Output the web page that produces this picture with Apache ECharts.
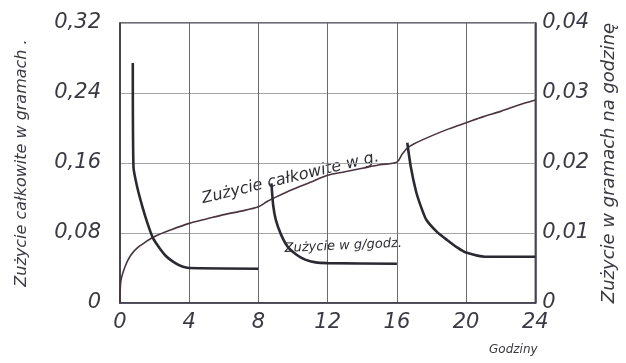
<!DOCTYPE html>
<html><head><meta charset="utf-8">
<script src="https://cdn.jsdelivr.net/npm/echarts@6/dist/echarts.min.js"></script>
<style>html,body{margin:0;padding:0;background:#fff}#c{width:626px;height:363px}</style>
</head><body><div id="c"></div>
<script>
// Cumulative consumption (g), left axis
const totalHours = [0, 0.05, 0.3, 0.6, 1, 1.5, 2, 3, 4, 5, 6, 7, 8, 8.5, 9, 10, 11, 12, 13, 14, 15, 16, 16.3, 16.6, 17, 18, 19, 20, 21, 22, 23, 24];
const totalValues = [0, 0.025, 0.042, 0.054, 0.063, 0.070, 0.076, 0.084, 0.091, 0.096, 0.101, 0.105, 0.110, 0.116, 0.121, 0.130, 0.138, 0.146, 0.150, 0.154, 0.158, 0.161, 0.170, 0.177, 0.182, 0.191, 0.199, 0.206, 0.213, 0.219, 0.226, 0.232];
// Hourly consumption (g/h), right axis – three feeding periods
const rate1Hours = [0.74, 0.78, 1.0, 1.3, 1.6, 1.9, 2.3, 2.7, 3.2, 3.6, 4, 8];
const rate1Values = [0.0343, 0.0194, 0.0165, 0.0137, 0.0113, 0.0093, 0.0078, 0.0066, 0.0057, 0.0052, 0.0050, 0.0049];
const rate2Hours = [8.75, 8.85, 9.0, 9.3, 9.7, 10.2, 10.7, 11.3, 12, 16];
const rate2Values = [0.0171, 0.0140, 0.0119, 0.0098, 0.0080, 0.0069, 0.0062, 0.0058, 0.0057, 0.0056];
const rate3Hours = [16.6, 16.8, 17.1, 17.4, 17.7, 18.3, 18.9, 19.5, 20, 21.1, 24];
const rate3Values = [0.0229, 0.0195, 0.0160, 0.0137, 0.0119, 0.0102, 0.0090, 0.0079, 0.0072, 0.0066, 0.0066];
const xTicks = [0, 4, 8, 12, 16, 20, 24];
const leftTicks = ['0', '0,08', '0,16', '0,24', '0,32'];
const rightTicks = ['0', '0,01', '0,02', '0,03', '0,04'];

const pair = (xs, ys) => xs.map((x, i) => [x, ys[i]]);
const FONT = '"DejaVu Sans", "Liberation Sans", sans-serif';
const lbl = {fontFamily: FONT, fontStyle: 'italic', fontSize: 21, color: '#3a3a44'};

const chart = echarts.init(document.getElementById('c'));
chart.setOption({
  animation: false,
  backgroundColor: '#fff',
  grid: {left: 120, right: 85, top: 23, bottom: 60, show: true, borderColor: '#3c3a48', borderWidth: 1.5},
  xAxis: {
    type: 'value', min: 0, max: 24, interval: 4,
    axisLine: {show: true, lineStyle: {color: '#3c3a48', width: 1.5}},
    axisTick: {show: false},
    axisLabel: Object.assign({}, lbl, {margin: 9, formatter: v => xTicks.includes(v) ? String(v) : ''}),
    splitLine: {show: true, lineStyle: {color: '#6a6875', width: 1}}
  },
  yAxis: [{
    type: 'value', min: 0, max: 0.32, interval: 0.08,
    axisLine: {show: true, lineStyle: {color: '#3c3a48', width: 1.5}},
    axisTick: {show: false},
    axisLabel: Object.assign({}, lbl, {margin: 19, formatter: (v) => leftTicks[Math.round(v / 0.08)]}),
    splitLine: {show: true, lineStyle: {color: '#a5a5a8', width: 1}},
    name: 'Zużycie całkowite w gramach .', nameLocation: 'middle', nameGap: 90, nameRotate: 90,
    nameTextStyle: {fontFamily: FONT, fontStyle: 'italic', fontSize: 16, color: '#3a3a44'}
  }, {
    type: 'value', min: 0, max: 0.04, interval: 0.01, position: 'right',
    axisLine: {show: true, lineStyle: {color: '#3c3a48', width: 1.5}},
    axisTick: {show: false},
    axisLabel: Object.assign({}, lbl, {margin: 7, formatter: (v) => rightTicks[Math.round(v / 0.01)]}),
    splitLine: {show: false},
    name: 'Zużycie w gramach na godzinę', nameLocation: 'middle', nameGap: 60, nameRotate: 90,
    nameTextStyle: {fontFamily: FONT, fontStyle: 'italic', fontSize: 18, color: '#3a3a44'}
  }],
  graphic: [
    {type: 'text', left: 489, top: 344, style: {text: 'Godziny', font: 'italic 12px ' + FONT, fill: '#3a3a44'}},
    {type: 'text', x: 204, y: 207, rotation: 13.5 * Math.PI / 180, style: {text: 'Zużycie całkowite w g.', font: 'italic 16px ' + FONT, fill: '#2e2e36', textVerticalAlign: 'bottom'}},
    {type: 'text', x: 285, y: 255, rotation: 2.5 * Math.PI / 180, style: {text: 'Zużycie w g/godz.', font: 'italic 13px ' + FONT, fill: '#2e2e36', textVerticalAlign: 'bottom'}}
  ],
  series: [
    {type: 'line', yAxisIndex: 0, data: pair(totalHours, totalValues), smooth: 0.3, symbol: 'none',
     lineStyle: {color: '#4a3440', width: 1.6}},
    {type: 'line', yAxisIndex: 1, data: pair(rate1Hours, rate1Values), smooth: 0.2, symbol: 'none',
     lineStyle: {color: '#2a2a32', width: 2.6}},
    {type: 'line', yAxisIndex: 1, data: pair(rate2Hours, rate2Values), smooth: 0.2, symbol: 'none',
     lineStyle: {color: '#2a2a32', width: 2.6}},
    {type: 'line', yAxisIndex: 1, data: pair(rate3Hours, rate3Values), smooth: 0.2, symbol: 'none',
     lineStyle: {color: '#2a2a32', width: 2.6}}
  ]
});
</script></body></html>
